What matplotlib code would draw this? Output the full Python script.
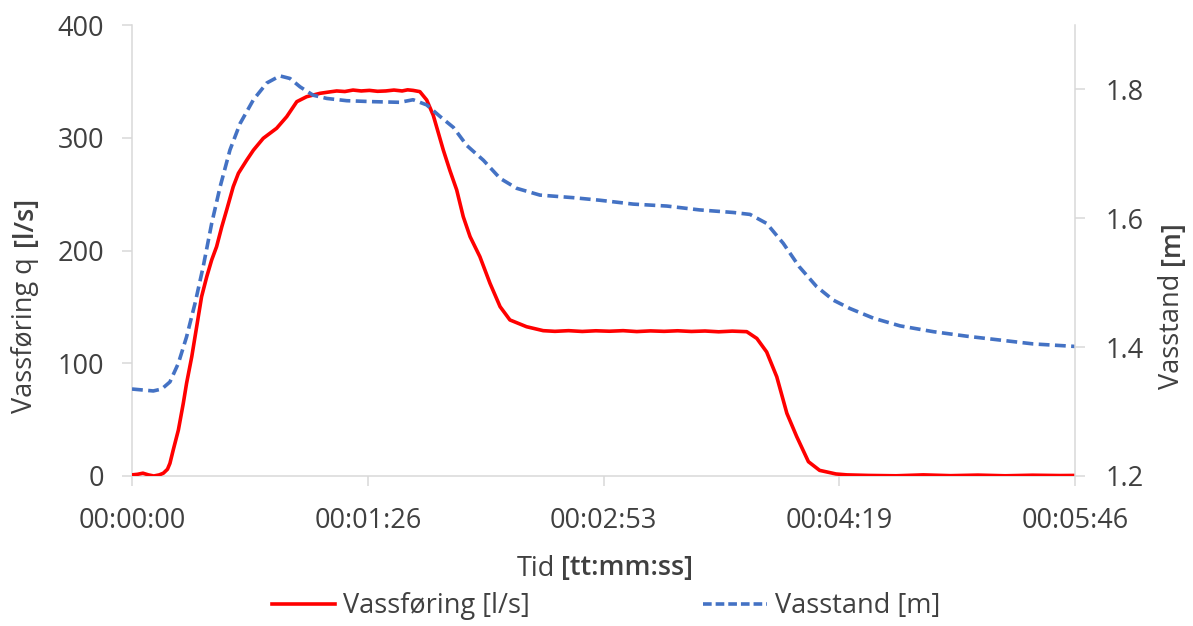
import matplotlib
matplotlib.use("Agg")
import matplotlib.pyplot as plt
from matplotlib.lines import Line2D

FONT = ['Open Sans', 'DejaVu Sans']
plt.rcParams['font.family'] = FONT

# ---------------- data (seconds since start) ----------------
t_flow = [0, 2, 4, 6, 8, 10, 11.5, 13, 13.9, 15.1, 17.0, 18.8, 20.0, 21.9, 23.7, 25.5,
          27.4, 29.2, 31.0, 32.9, 34.7, 37.1, 39.0, 42.0, 44.5, 48.1, 53.0, 56.7, 60.4,
          64.0, 68.9, 72, 75, 78, 81, 84, 87, 90, 93, 96, 99, 101, 103, 105.5, 108,
          110.4, 114.1, 116.5, 119, 121.4, 123.9, 127.5, 131.2, 134.9, 138.5, 144.6,
          150.7, 155, 160, 165, 170, 175, 180, 185, 190, 195, 200, 205, 210, 215, 220,
          225.3, 229, 232.6, 236.3, 240, 243.6, 247.9, 252, 258, 262, 270, 280, 290,
          300, 310, 320, 330, 340, 346]
flow = [1, 1.5, 2.5, 1, 0, 1, 2.5, 6, 11.2, 23, 40.8, 64.5, 82.2, 105.8, 132.4, 159,
        176.8, 191.6, 203.4, 221, 236, 256.6, 268.5, 280, 289, 299.5, 308.4, 318.7, 332,
        336.4, 339.4, 340.5, 341.5, 341, 342.3, 341.5, 342, 341.2, 341.5, 342.3, 341.5,
        342.5, 342, 340.9, 333.5,
        320, 289, 271, 253.7, 230, 212.3, 194.5, 170.9, 150.2, 138.4, 132.4,
        128.9, 128.3, 128.9, 128.2, 128.8, 128.4, 128.9, 128.1, 128.7, 128.3, 128.8, 128.2,
        128.6, 127.9, 128.5,
        128, 122, 110, 88, 55.6, 35, 12.7, 5, 1.8, 1, 0.5, 0.2, 1, 0.3, 0.8, 0.2, 0.7, 0.4, 0.5]

t_level = [0, 7.8, 10.9, 13.9, 17.0, 20.0, 23.1, 26.1, 29.2, 32.3, 35.9, 39.6, 44.5, 49.4,
           54.2, 57.9, 61.6, 66.4, 71.4, 78.7, 88.4, 98.2, 103, 108, 112.9, 117.8, 122.7,
           128.8, 134.9, 141, 149.5, 161.7, 171.5, 183.7, 196, 208, 220.4, 226.5, 232.6,
           238.7, 244.5, 250.9, 257, 263.1, 271.7, 281.5, 293.7, 305.9, 318.1, 330.3, 346]
level = [1.335, 1.332, 1.335, 1.346, 1.375, 1.416, 1.468, 1.525, 1.592, 1.649, 1.706,
         1.747, 1.784, 1.810, 1.821, 1.817, 1.804, 1.791, 1.786, 1.7825, 1.781, 1.780,
         1.784, 1.776, 1.758, 1.741, 1.713, 1.690, 1.662, 1.6465, 1.636, 1.632, 1.628,
         1.622, 1.619, 1.613, 1.609, 1.606, 1.592, 1.561, 1.525, 1.494, 1.473, 1.460,
         1.445, 1.433, 1.424, 1.417, 1.411, 1.405, 1.401]

x_ticks = [0, 86.4, 172.8, 259.2, 345.6]
x_tick_labels = ["00:00:00", "00:01:26", "00:02:53", "00:04:19", "00:05:46"]
y_left_ticks = [0, 100, 200, 300, 400]
y_right_ticks = [1.2, 1.4, 1.6, 1.8]
y_right_tick_labels = ["1.2", "1.4", "1.6", "1.8"]

series_names = ["Vassføring [l/s]", "Vasstand [m]"]

# ---------------- styling ----------------
W, H = 1193, 626
DPI = 100
RED = "#FF0000"
BLUE = "#4472C4"
GRID = "#D9D9D9"
TXT = "#404040"
FS = 19.5
LW = 2.6

fig = plt.figure(figsize=(W / DPI, H / DPI), dpi=DPI)
ax = fig.add_axes([132 / W, (H - 476) / H, (1075 - 132) / W, (476 - 25) / H])
ax2 = ax.twinx()

ax.plot(t_flow, flow, color=RED, lw=LW, solid_joinstyle='round', zorder=3)
ax2.plot(t_level, level, color=BLUE, lw=LW, dashes=(3.0, 1.5), zorder=2)

ax.set_xlim(0, 345.6)
ax.set_ylim(0, 400)
ax2.set_ylim(1.2, 1.9)

ax.set_xticks(x_ticks)
ax.set_xticklabels(x_tick_labels)
ax.set_yticks(y_left_ticks)
ax2.set_yticks(y_right_ticks)
ax2.set_yticklabels(y_right_tick_labels)

for a in (ax, ax2):
    a.spines['top'].set_visible(False)
    for s in ('left', 'right', 'bottom'):
        a.spines[s].set_color(GRID)
        a.spines[s].set_linewidth(1.1)
    a.set_facecolor('none')

ax.spines['right'].set_visible(False)
ax2.spines['left'].set_visible(False)
ax2.spines['bottom'].set_visible(False)

ax.tick_params(axis='x', direction='out', length=7, width=1.1, color=GRID,
               labelsize=FS, labelcolor=TXT, pad=15)
ax.tick_params(axis='y', direction='out', length=7, width=1.1, color=GRID,
               labelsize=FS, labelcolor=TXT, pad=13)
ax2.tick_params(axis='y', direction='out', length=7, width=1.1, color=GRID,
                labelsize=FS, labelcolor=TXT, pad=15)


# ---------------- two-part axis titles ----------------
def two_part(normal, bold, cx, cy, rotation=0, gap=0.22):
    """Place 'normal' + 'bold' text centred on pixel (cx, cy) in figure pixels."""
    r = fig.canvas.get_renderer()
    kw = dict(fontsize=FS, color=TXT, rotation=rotation, transform=None)
    t1 = fig.text(0, 0, normal, **kw)
    t2 = fig.text(0, 0, bold, fontweight='semibold', **kw)
    space = gap * FS * DPI / 72.0
    b1 = t1.get_window_extent(r)
    b2 = t2.get_window_extent(r)
    if rotation == 0:
        total = b1.width + space + b2.width
        x0 = cx - total / 2
        t1.set_position((x0, cy)); t1.set_ha('left'); t1.set_va('center_baseline')
        t2.set_position((x0 + b1.width + space, cy)); t2.set_ha('left'); t2.set_va('center_baseline')
    else:
        total = b1.height + space + b2.height
        y0 = cy - total / 2
        t1.set_position((cx, y0)); t1.set_ha('center'); t1.set_va('bottom')
        t2.set_position((cx, y0 + b1.height + space)); t2.set_ha('center'); t2.set_va('bottom')
    return t1, t2


fig.canvas.draw()
two_part("Tid", "[tt:mm:ss]", 605, H - 565)
two_part("Vassføring q", "[l/s]", 25, H - 305, rotation=90, gap=0.42)
two_part("Vasstand", "[m]", 1172, H - 305, rotation=90, gap=0.3)

# ---------------- legend ----------------
handles = [Line2D([], [], color=RED, lw=LW),
           Line2D([], [], color=BLUE, lw=LW, dashes=(2.4, 1.1))]
fig.legend(handles, series_names, loc='center', bbox_to_anchor=(606 / W, (H - 606) / H),
           ncol=2, frameon=False, fontsize=FS, labelcolor=TXT,
           handlelength=2.35, handletextpad=0.3, columnspacing=6.4, borderpad=0)

fig.savefig("out.png", dpi=DPI)
